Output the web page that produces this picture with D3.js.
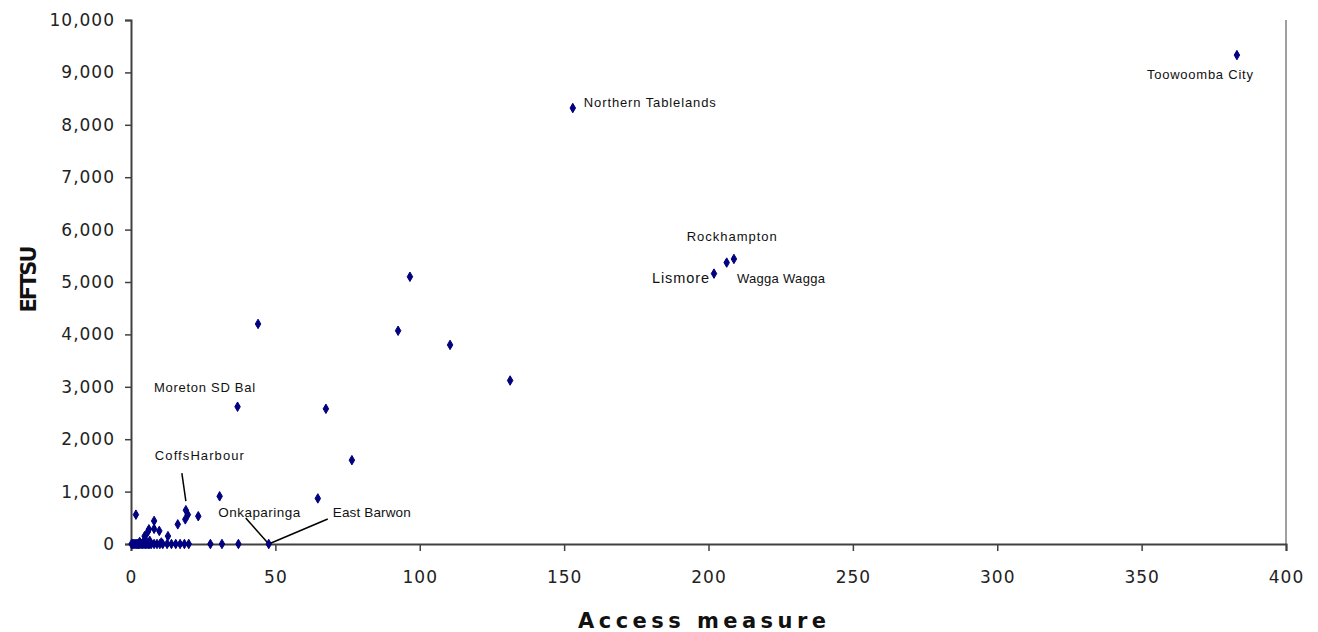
<!DOCTYPE html>
<html><head><meta charset="utf-8">
<script src="https://cdn.jsdelivr.net/npm/d3@7"></script>
<style>
html,body{margin:0;padding:0;background:#fff;}
svg{display:block;}
</style>
</head><body>
<svg id="chart" width="1318" height="632"></svg>
<script>
// ---- data ----
const accessMeasure = [383, 153, 208.8, 206.3, 201.9, 96.6, 44, 92.5, 110.5, 131.3, 36.9, 67.5, 76.5, 30.7, 64.7,
  19, 1.7, 19.7, 23.3, 18.8, 8, 16.2, 6.2, 8, 9.8, 5.8, 4.7, 12.8, 5, 3, 6.5, 10.5, 4, 47.7,
  0.2, 0.6, 1, 1.4, 1.8, 2.2, 2.6, 3, 3.5, 4, 4.5, 5, 5.5, 6, 6.5, 7, 8, 9, 10, 11, 12.5, 14, 15.5, 17, 18.5, 20, 27.5, 31.5, 37.2];
const eftsu = [9330, 8320, 5440, 5370, 5160, 5100, 4200, 4070, 3800, 3120, 2620, 2580, 1600, 910, 870,
  645, 560, 560, 530, 470, 440, 375, 280, 290, 250, 230, 150, 150, 90, 40, 60, 30, 20, 0,
  0, 0, 0, 0, 0, 0, 0, 0, 0, 0, 0, 0, 0, 0, 0, 0, 0, 0, 0, 0, 0, 0, 0, 0, 0, 0, 0, 0, 0];
const xTicks = [0, 50, 100, 150, 200, 250, 300, 350, 400];
const yTicks = [0, 1000, 2000, 3000, 4000, 5000, 6000, 7000, 8000, 9000, 10000];
const labelNames = ["Toowoomba City", "Northern Tablelands", "Rockhampton", "Lismore", "Wagga Wagga", "Moreton SD Bal", "CoffsHarbour", "Onkaparinga", "East Barwon"];
const labelX = [383, 153, 206.3, 201.9, 208.8, 36.9, 19, 47.7, 47.7];
const labelY = [9330, 8320, 5370, 5160, 5440, 2620, 645, 0, 0];

// ---- layout / style ----
const svg = d3.select("#chart");
const x = d3.scaleLinear().domain([0, 400]).range([131, 1286]);
const y = d3.scaleLinear().domain([0, 10000]).range([544, 20]);
const tickFont = "'DejaVu Sans', sans-serif";
const labelFont = "'Liberation Sans', Arial, sans-serif";

// right plot border
svg.append("line").attr("x1", 1286).attr("x2", 1286).attr("y1", 20).attr("y2", 544)
  .attr("stroke", "#a0a0a0").attr("stroke-width", 2);

// axes
const yAxis = d3.axisLeft(y).tickValues(yTicks).tickSize(6).tickPadding(10).tickFormat(d3.format(","));
const gy = svg.append("g").attr("transform", "translate(131,0)").call(yAxis);
const xAxis = d3.axisBottom(x).tickValues(xTicks).tickSize(7).tickPadding(10).tickFormat(d3.format("d"));
const gx = svg.append("g").attr("transform", "translate(0,544)").call(xAxis);
[gx, gy].forEach(g => {
  g.select(".domain").attr("stroke", "#404040").attr("stroke-width", 2);
  g.selectAll(".tick line").attr("stroke", "#404040").attr("stroke-width", 1.5);
  g.selectAll(".tick text").attr("font-family", tickFont).attr("font-size", 17)
    .attr("letter-spacing", "1px").attr("fill", "#222");
});
gx.selectAll(".tick text").attr("y", 39).attr("dy", 0);

// axis titles
svg.append("text").attr("x", 702).attr("y", 628).attr("text-anchor", "middle")
  .attr("font-family", tickFont).attr("font-weight", "bold").attr("font-size", 21)
  .attr("textLength", 248).attr("lengthAdjust", "spacing").attr("fill", "#111")
  .text("Access measure");
svg.append("text").attr("transform", "translate(36,279) rotate(-90)").attr("text-anchor", "middle")
  .attr("font-family", tickFont).attr("font-weight", "bold").attr("font-size", 21)
  .attr("textLength", 67).attr("lengthAdjust", "spacing").attr("fill", "#111")
  .text("EFTSU");

// leader lines (pixel offsets relative to the labelled point)
const leaderOffsets = { "CoffsHarbour": [-4, -37, 0, -9], "Onkaparinga": [-23, -26, 0, 0], "East Barwon": [59, -25, 0, 0] };
labelNames.forEach((n, i) => {
  const o = leaderOffsets[n];
  if (!o) return;
  const px = x(labelX[i]), py = y(labelY[i]);
  svg.append("line").attr("x1", px + o[0]).attr("y1", py + o[1]).attr("x2", px + o[2]).attr("y2", py + o[3])
    .attr("stroke", "#000").attr("stroke-width", 1.5);
});

// points
const pts = accessMeasure.map((v, i) => ({ x: v, y: eftsu[i] }));
svg.append("g").selectAll("path").data(pts).join("path")
  .attr("transform", d => `translate(${x(d.x)},${y(d.y)})`)
  .attr("d", d3.symbol().type(d3.symbolDiamond).size(26))
  .attr("fill", "#000080").attr("stroke", "#000080").attr("stroke-width", 1);

// labels (offsets in pixels: dx, dy, anchor, width, size)
const labelStyle = {
  "Toowoomba City": [-90, 24, "start", 106, 13],
  "Northern Tablelands": [11, -1, "start", 132, 13],
  "Rockhampton": [-40, -22, "start", 90, 13],
  "Lismore": [-5, 9.5, "end", 57, 14.5],
  "Wagga Wagga": [3, 24, "start", 88, 13],
  "Moreton SD Bal": [-83.5, -15, "start", 101, 13],
  "CoffsHarbour": [-31, -50, "start", 89, 13],
  "Onkaparinga": [-50.5, -27, "start", 82, 13.5],
  "East Barwon": [64, -27, "start", 78, 13.5]
};
labelNames.forEach((n, i) => {
  const s = labelStyle[n];
  svg.append("text").attr("x", x(labelX[i]) + s[0]).attr("y", y(labelY[i]) + s[1])
    .attr("text-anchor", s[2]).attr("font-family", labelFont).attr("font-size", s[4])
    .attr("textLength", s[3]).attr("lengthAdjust", "spacing").attr("fill", "#111")
    .text(n);
});
</script>
</body></html>
